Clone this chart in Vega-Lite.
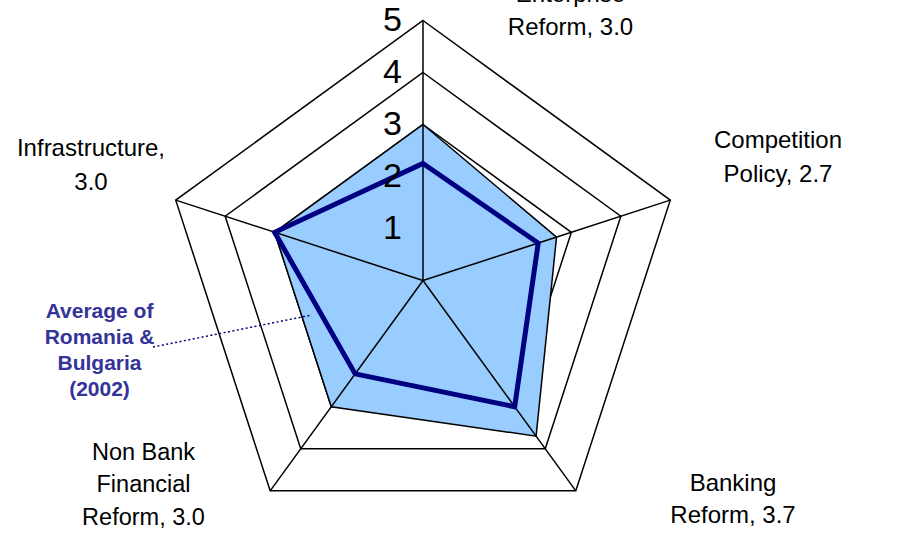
{
  "$schema": "https://vega.github.io/schema/vega-lite/v6.json",
  "width": 919,
  "height": 547,
  "padding": 0,
  "autosize": "none",
  "background": "white",
  "config": {"view": {"stroke": null}, "font": "Liberation Sans"},
  "datasets": {
    "axes": [
      {"k": 0, "category": "Enterprise Reform", "levels": [1, 2, 3, 4, 5]},
      {"k": 1, "category": "Competition Policy", "levels": [1, 2, 3, 4, 5]},
      {"k": 2, "category": "Banking Reform", "levels": [1, 2, 3, 4, 5]},
      {"k": 3, "category": "Non Bank Financial Reform", "levels": [1, 2, 3, 4, 5]},
      {"k": 4, "category": "Infrastructure", "levels": [1, 2, 3, 4, 5]}
    ],
    "scores": [
      {"series": "Country", "k": 0, "category": "Enterprise Reform", "score": 3.0},
      {"series": "Country", "k": 1, "category": "Competition Policy", "score": 2.7},
      {"series": "Country", "k": 2, "category": "Banking Reform", "score": 3.7},
      {"series": "Country", "k": 3, "category": "Non Bank Financial Reform", "score": 3.0},
      {"series": "Country", "k": 4, "category": "Infrastructure", "score": 3.0},
      {"series": "Average of Romania & Bulgaria (2002)", "k": 0, "category": "Enterprise Reform", "score": 2.25},
      {"series": "Average of Romania & Bulgaria (2002)", "k": 1, "category": "Competition Policy", "score": 2.33},
      {"series": "Average of Romania & Bulgaria (2002)", "k": 2, "category": "Banking Reform", "score": 3.0},
      {"series": "Average of Romania & Bulgaria (2002)", "k": 3, "category": "Non Bank Financial Reform", "score": 2.22},
      {"series": "Average of Romania & Bulgaria (2002)", "k": 4, "category": "Infrastructure", "score": 3.0}
    ],
    "ticks": [{"level": 1}, {"level": 2}, {"level": 3}, {"level": 4}, {"level": 5}]
  },
  "layer": [
    {
      "data": {"name": "axes"},
      "transform": [
        {"flatten": ["levels"], "as": ["level"]},
        {"calculate": "PI/2 - datum.k*2*PI/5", "as": "angle"},
        {"calculate": "datum.level*cos(datum.angle)", "as": "x"},
        {"calculate": "datum.level*sin(datum.angle)", "as": "y"}
      ],
      "mark": {"type": "line", "interpolate": "linear-closed", "stroke": "black", "strokeWidth": 1.5},
      "encoding": {
        "x": {"field": "x", "type": "quantitative", "scale": {"domain": [-8.1346, 9.5385], "nice": false, "zero": false}, "axis": null},
        "y": {"field": "y", "type": "quantitative", "scale": {"domain": [-5.125, 5.394], "nice": false, "zero": false}, "axis": null},
        "detail": {"field": "level", "type": "nominal"},
        "order": {"field": "k", "type": "quantitative"}
      }
    },
    {
      "data": {"name": "scores"},
      "transform": [
        {"filter": "datum.series === 'Country'"},
        {"calculate": "PI/2 - datum.k*2*PI/5", "as": "angle"},
        {"calculate": "datum.score*cos(datum.angle)", "as": "x"},
        {"calculate": "datum.score*sin(datum.angle)", "as": "y"}
      ],
      "mark": {"type": "line", "interpolate": "linear-closed", "fill": "#99CCFF", "stroke": "black", "strokeWidth": 1.5},
      "encoding": {
        "x": {"field": "x", "type": "quantitative", "scale": {"domain": [-8.1346, 9.5385], "nice": false, "zero": false}, "axis": null},
        "y": {"field": "y", "type": "quantitative", "scale": {"domain": [-5.125, 5.394], "nice": false, "zero": false}, "axis": null},
        "order": {"field": "k", "type": "quantitative"}
      }
    },
    {
      "data": {"name": "axes"},
      "transform": [
        {"calculate": "PI/2 - datum.k*2*PI/5", "as": "angle"},
        {"calculate": "5*cos(datum.angle)", "as": "x"},
        {"calculate": "5*sin(datum.angle)", "as": "y"}
      ],
      "mark": {"type": "rule", "stroke": "black", "strokeWidth": 1.5},
      "encoding": {
        "x": {"field": "x", "type": "quantitative", "scale": {"domain": [-8.1346, 9.5385], "nice": false, "zero": false}, "axis": null},
        "y": {"field": "y", "type": "quantitative", "scale": {"domain": [-5.125, 5.394], "nice": false, "zero": false}, "axis": null},
        "x2": {"datum": 0},
        "y2": {"datum": 0}
      }
    },
    {
      "data": {"name": "scores"},
      "transform": [
        {"filter": "datum.series !== 'Country'"},
        {"calculate": "PI/2 - datum.k*2*PI/5", "as": "angle"},
        {"calculate": "datum.score*cos(datum.angle)", "as": "x"},
        {"calculate": "datum.score*sin(datum.angle)", "as": "y"}
      ],
      "mark": {"type": "line", "interpolate": "linear-closed", "stroke": "#000080", "strokeWidth": 5, "strokeJoin": "miter"},
      "encoding": {
        "x": {"field": "x", "type": "quantitative", "scale": {"domain": [-8.1346, 9.5385], "nice": false, "zero": false}, "axis": null},
        "y": {"field": "y", "type": "quantitative", "scale": {"domain": [-5.125, 5.394], "nice": false, "zero": false}, "axis": null},
        "order": {"field": "k", "type": "quantitative"}
      }
    },
    {
      "data": {"name": "ticks"},
      "mark": {"type": "text", "align": "right", "baseline": "middle", "dx": -21, "dy": 1, "fontSize": 34, "color": "black"},
      "encoding": {
        "x": {"datum": 0, "type": "quantitative", "scale": {"domain": [-8.1346, 9.5385], "nice": false, "zero": false}, "axis": null},
        "y": {"field": "level", "type": "quantitative", "scale": {"domain": [-5.125, 5.394], "nice": false, "zero": false}, "axis": null},
        "text": {"field": "level", "type": "quantitative"}
      }
    },
    {
      "data": {"values": [{}]},
      "layer": [
        {
          "mark": {"type": "text", "align": "center", "baseline": "middle", "fontSize": 24, "lineHeight": 33, "color": "black", "text": ["Enterprise", "Reform, 3.0"]},
          "encoding": {"x": {"datum": 2.837, "type": "quantitative"}, "y": {"datum": 5.481, "type": "quantitative"}}
        },
        {
          "mark": {"type": "text", "align": "center", "baseline": "middle", "fontSize": 24, "lineHeight": 34, "color": "black", "text": ["Competition", "Policy, 2.7"]},
          "encoding": {"x": {"datum": 6.827, "type": "quantitative"}, "y": {"datum": 2.692, "type": "quantitative"}}
        },
        {
          "mark": {"type": "text", "align": "center", "baseline": "middle", "fontSize": 24, "lineHeight": 32, "color": "black", "text": ["Banking", "Reform, 3.7"]},
          "encoding": {"x": {"datum": 5.962, "type": "quantitative"}, "y": {"datum": -3.913, "type": "quantitative"}}
        },
        {
          "mark": {"type": "text", "align": "center", "baseline": "middle", "fontSize": 23.5, "lineHeight": 32.5, "color": "black", "text": ["Non Bank", "Financial", "Reform, 3.0"]},
          "encoding": {"x": {"datum": -5.375, "type": "quantitative"}, "y": {"datum": -3.317, "type": "quantitative"}}
        },
        {
          "mark": {"type": "text", "align": "center", "baseline": "middle", "fontSize": 24, "lineHeight": 34, "color": "black", "text": ["Infrastructure,", "3.0"]},
          "encoding": {"x": {"datum": -6.385, "type": "quantitative"}, "y": {"datum": 2.529, "type": "quantitative"}}
        },
        {
          "mark": {"type": "text", "align": "center", "baseline": "middle", "fontSize": 21, "fontWeight": "bold", "lineHeight": 26, "color": "#333399", "text": ["Average of", "Romania &", "Bulgaria", "(2002)"]},
          "encoding": {"x": {"datum": -6.221, "type": "quantitative"}, "y": {"datum": -0.615, "type": "quantitative"}}
        },
        {
          "mark": {"type": "rule", "stroke": "#000080", "strokeWidth": 1.5, "strokeDash": [2, 2.5]},
          "encoding": {
            "x": {"datum": -5.192, "type": "quantitative"},
            "y": {"datum": -1.279, "type": "quantitative"},
            "x2": {"datum": -2.135},
            "y2": {"datum": -0.663}
          }
        }
      ]
    }
  ]
}
